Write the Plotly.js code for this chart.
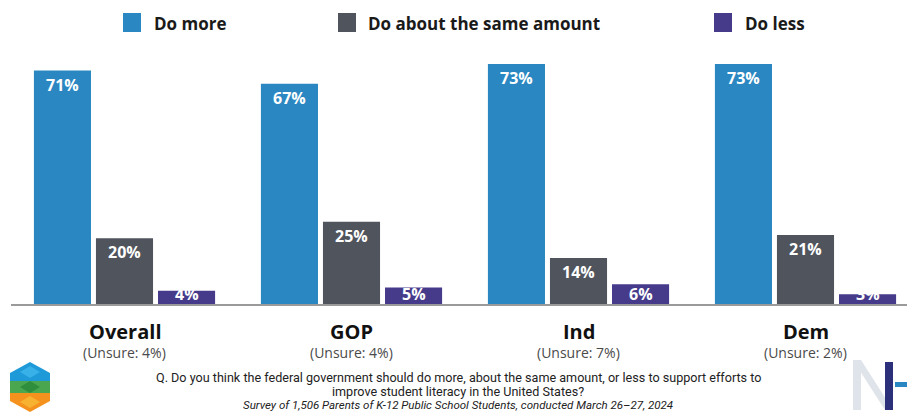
<!DOCTYPE html>
<html>
<head>
<meta charset="utf-8">
<script src="https://cdn.plot.ly/plotly-3.0.1.min.js"></script>
<style>html,body{margin:0;padding:0;background:#fff;}#chart{width:907px;height:412px;}</style>
</head>
<body>
<div id="chart"></div>
<script>
// ---- data ----
const categories = ['Overall', 'GOP', 'Ind', 'Dem'];
const unsureLabels = ['(Unsure: 4%)', '(Unsure: 4%)', '(Unsure: 7%)', '(Unsure: 2%)'];
const seriesNames = ['Do more', 'Do about the same amount', 'Do less'];
const doMore = [71, 67, 73, 73];
const doSame = [20, 25, 14, 21];
const doLess = [4, 5, 6, 3];
const questionLine1 = 'Q. Do you think the federal government should do more, about the same amount, or less to support efforts to';
const questionLine2 = 'improve student literacy in the United States?';
const surveyNote = 'Survey of 1,506 Parents of K-12 Public School Students, conducted March 26–27, 2024';

// ---- style ----
const colors = ['#2a87c1', '#50545c', '#463b8b'];
const W = 907, H = 412;
const M = {l: 11, r: 0, t: 41, b: 108};
const plotW = W - M.l - M.r, plotH = H - M.t - M.b;
const bargap = 0.18, bargroupgap = 0.08;
const yMax = 80;
const catSpacing = 227;
const xRange = [-0.5, plotW / catSpacing - 0.5];
const px2x = p => (p - M.l) / plotW;           // pixel -> paper x
const py2y = p => 1 - (p - M.t) / plotH;        // pixel -> paper y
const FONT = 'Open Sans, sans-serif';

const seriesValues = [doMore, doSame, doLess];
const traces = seriesValues.map((vals, j) => ({
  type: 'bar',
  name: seriesNames[j],
  x: categories,
  y: vals,
  marker: {color: colors[j]},
  hoverinfo: 'x+y+name',
  showlegend: false
}));

const annotations = [];
const slotFrac = (1 - bargap) / 3;
const pxPerUnit = plotH / yMax;
const minLabelY = 24 / pxPerUnit;
seriesValues.forEach((vals, j) => {
  vals.forEach((v, i) => {
    annotations.push({
      x: i + (j - 1) * slotFrac, y: Math.max(v, minLabelY),
      xref: 'x', yref: 'y', yshift: -14, yanchor: 'middle', xanchor: 'center',
      text: '<b>' + v + '%</b>', showarrow: false,
      font: {family: FONT, size: 16, color: '#ffffff'}
    });
  });
});
categories.forEach((c, i) => {
  annotations.push({
    x: i, y: 0, xref: 'x', yref: 'paper', yshift: -27, yanchor: 'middle',
    text: '<b>' + c + '</b>', showarrow: false,
    font: {family: FONT, size: 20, color: '#111111'}
  });
  annotations.push({
    x: i, y: 0, xref: 'x', yref: 'paper', yshift: -48, yanchor: 'middle',
    text: unsureLabels[i], showarrow: false,
    font: {family: FONT, size: 14, color: '#4a4a4a'}
  });
});

// custom legend
const legendSquares = [123, 338, 714];
const legendTexts = [152, 366, 743];
const shapes = [];
seriesNames.forEach((n, j) => {
  shapes.push({
    type: 'rect', xref: 'paper', yref: 'paper',
    x0: px2x(legendSquares[j]), x1: px2x(legendSquares[j] + 18),
    y0: py2y(32), y1: py2y(13),
    fillcolor: colors[j], line: {width: 0}
  });
  annotations.push({
    x: px2x(legendTexts[j]), y: py2y(23.5), xref: 'paper', yref: 'paper',
    xanchor: 'left', yanchor: 'middle', showarrow: false,
    text: '<b>' + n + '</b>',
    font: {family: FONT, size: 17, color: '#1a1a1a'}
  });
});

// footnote
const footFont = 'Roboto, sans-serif';
annotations.push({x: px2x(458), y: py2y(377.5), xref: 'paper', yref: 'paper', xanchor: 'center', yanchor: 'middle',
  showarrow: false, text: questionLine1, font: {family: footFont, size: 12.6, color: '#222'}});
annotations.push({x: px2x(458), y: py2y(391.5), xref: 'paper', yref: 'paper', xanchor: 'center', yanchor: 'middle',
  showarrow: false, text: questionLine2, font: {family: footFont, size: 12.6, color: '#222'}});
annotations.push({x: px2x(458), y: py2y(405), xref: 'paper', yref: 'paper', xanchor: 'center', yanchor: 'middle',
  showarrow: false, text: '<i>' + surveyNote + '</i>', font: {family: footFont, size: 11.5, color: '#222'}});

// logos (decorative)
function poly(pts, color) {
  const d = 'M' + pts.map(p => px2x(p[0]) + ',' + py2y(p[1])).join('L') + 'Z';
  shapes.push({type: 'path', xref: 'paper', yref: 'paper', path: d, fillcolor: color, line: {width: 0}, layer: 'above'});
}
poly([[30,362],[50,373],[50,381],[10,381],[10,373]], '#1f9ad8');
poly([[30,366],[40,372],[30,378],[20,372]], '#38b0e8');
poly([[10,381],[50,381],[50,393],[10,393]], '#4aa64f');
poly([[30,381],[40,387],[30,393],[20,387]], '#2f8d3e');
poly([[10,393],[50,393],[50,401],[30,412],[10,401]], '#f5921e');
poly([[30,396],[40,402],[30,408],[20,402]], '#f7b232');
poly([[853,360],[861,360],[861,410],[853,410]], '#dfe3ea');
poly([[853,360],[861,360],[893,410],[885,410]], '#dfe3ea');
poly([[885,362],[893,362],[893,410],[885,410]], '#2c2f7a');
poly([[895,382],[907,382],[907,387],[895,387]], '#2a87c1');

const layout = {
  width: W, height: H,
  margin: M,
  paper_bgcolor: '#ffffff', plot_bgcolor: '#ffffff',
  barmode: 'group', bargap: bargap, bargroupgap: bargroupgap,
  showlegend: false,
  xaxis: {type: 'category', range: xRange, showticklabels: false, ticks: '',
    showline: true, linecolor: '#9a9a9a', linewidth: 2, showgrid: false, zeroline: false, fixedrange: true},
  yaxis: {range: [0, yMax], visible: false, showgrid: false, zeroline: false, fixedrange: true},
  annotations: annotations,
  shapes: shapes
};

Plotly.newPlot('chart', traces, layout, {displayModeBar: false, staticPlot: true});
</script>
</body>
</html>
